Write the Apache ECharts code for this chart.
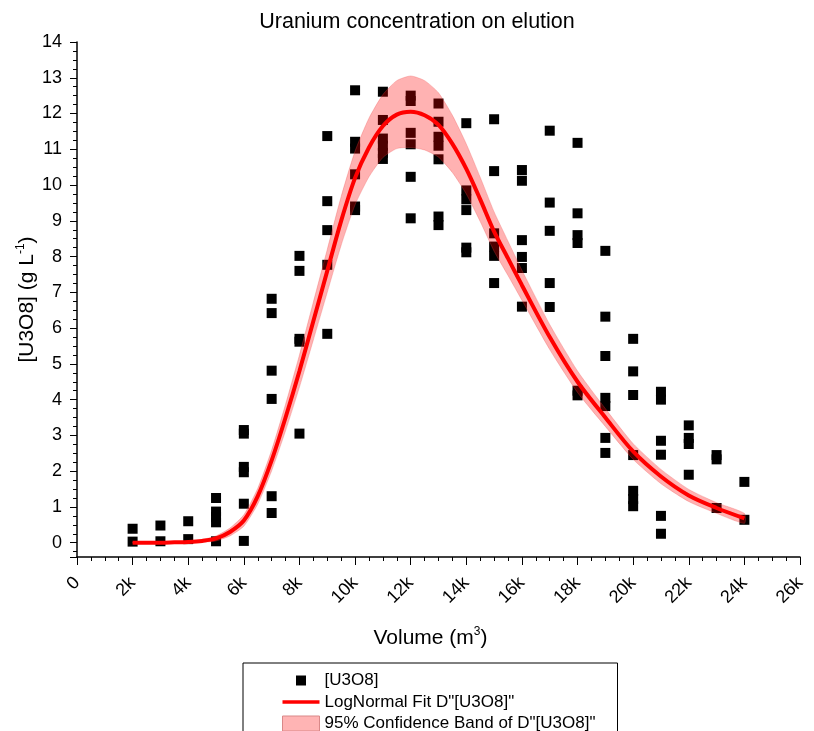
<!DOCTYPE html>
<html>
<head>
<meta charset="utf-8">
<script src="https://cdn.jsdelivr.net/npm/echarts@6/dist/echarts.min.js"></script>
<style>
  html, body { margin: 0; padding: 0; background: #fff; }
  #chart { width: 814px; height: 731px; }
</style>
</head>
<body>
<div id="chart"></div>
<script>
// measured points, grouped by elution volume (m3)
const columnVolumes = [2000, 3000, 4000, 5000, 6000, 7000, 8000, 9000, 10000, 11000, 12000,
  13000, 14000, 15000, 16000, 17000, 18000, 19000, 20000, 21000, 22000, 23000, 24000];
const columnValues = [
  [0.39, 0.03],
  [0.48, 0.04],
  [0.6, 0.1],
  [1.25, 0.87, 0.72, 0.57, 0.04],
  [3.15, 3.05, 2.12, 1.97, 1.09, 0.05],
  [6.82, 6.42, 4.81, 4.02, 1.3, 0.83],
  [8.02, 7.6, 5.7, 5.62, 3.05],
  [11.37, 9.55, 8.74, 7.77, 5.84],
  [12.65, 11.21, 11.02, 10.3, 9.4, 9.3],
  [12.61, 11.82, 11.3, 11.1, 10.9, 10.73],
  [12.5, 12.35, 11.46, 11.14, 10.23, 9.07],
  [12.28, 11.77, 11.35, 11.1, 10.72, 9.12, 8.88],
  [11.73, 9.85, 9.6, 9.3, 8.25, 8.12],
  [11.84, 10.39, 8.65, 8.28, 8.02, 7.26],
  [10.42, 10.12, 8.46, 7.99, 7.68, 6.6],
  [11.52, 9.51, 8.72, 7.26, 6.59],
  [11.18, 9.21, 8.6, 8.38, 4.25, 4.12],
  [8.16, 6.32, 5.22, 4.05, 3.82, 2.93, 2.51],
  [5.7, 4.79, 4.13, 2.45, 1.45, 1.22, 1.02],
  [4.22, 4.0, 2.85, 2.46, 0.75, 0.25],
  [3.28, 2.93, 2.76, 1.9],
  [2.45, 2.33, 0.97],
  [1.7, 0.64]
];

// lognormal fit and its 95% confidence band
const fitVolumes = [2000, 2500, 3000, 3500, 4000, 4500, 5000, 5500, 6000, 6500,
  7000, 7500, 8000, 8500, 9000, 9500, 10000, 10500, 11000, 11500,
  12000, 12500, 13000, 13500, 14000, 14500, 15000, 15500, 16000,
  17000, 18000, 19000, 20000, 21000, 22000, 23000, 24000];
const fitValues = [0, 0, 0, 0.01, 0.02, 0.05, 0.12, 0.3, 0.62, 1.3,
  2.3, 3.5, 4.8, 6.2, 7.6, 9.0, 10.2, 11.05, 11.65, 11.97,
  12.05, 11.95, 11.68, 11.15, 10.45, 9.6, 8.7, 7.95, 7.2,
  5.75, 4.5, 3.5, 2.55, 1.85, 1.32, 0.97, 0.68];
const bandLower = [-0.01, -0.01, -0.01, -0.005, 0, 0.01, 0.05, 0.19, 0.46, 1.08,
  2.01, 3.13, 4.35, 5.67, 7.0, 8.32, 9.45, 10.23, 10.77, 11.02,
  11.05, 10.98, 10.78, 10.35, 9.75, 8.98, 8.15, 7.47, 6.78,
  5.4, 4.2, 3.25, 2.33, 1.65, 1.15, 0.82, 0.54];
const bandUpper = [0.01, 0.01, 0.01, 0.025, 0.04, 0.09, 0.19, 0.41, 0.78, 1.52,
  2.59, 3.87, 5.25, 6.73, 8.2, 9.68, 10.95, 11.87, 12.53, 12.92,
  13.05, 12.92, 12.58, 11.95, 11.15, 10.22, 9.25, 8.43, 7.62,
  6.1, 4.8, 3.75, 2.77, 2.05, 1.49, 1.12, 0.82];

const xMax = 26000;
const xStep = 2000;
const yMin = -0.4;
const yMax = 14;

const font = "'Liberation Sans', Arial, sans-serif";
const bandFill = 'rgba(255, 0, 0, 0.3)';

const scatterData = [];
columnVolumes.forEach((v, i) => {
  columnValues[i].forEach(y => scatterData.push([v, y]));
});
const fitData = fitVolumes.map((v, i) => [v, fitValues[i]]);

function renderBand(params, api) {
  const pts = [];
  fitVolumes.forEach((v, i) => pts.push(api.coord([v, bandUpper[i]])));
  for (let i = fitVolumes.length - 1; i >= 0; i--) {
    pts.push(api.coord([fitVolumes[i], bandLower[i]]));
  }
  return {
    type: 'polygon',
    shape: { points: pts, smooth: 0.2 },
    style: { fill: bandFill, stroke: 'rgba(235, 70, 70, 0.35)', lineWidth: 0.8 }
  };
}

const chart = echarts.init(document.getElementById('chart'));
chart.setOption({
  animation: false,
  backgroundColor: '#fff',
  title: {
    text: 'Uranium concentration on elution',
    left: 412,
    textAlign: 'center',
    top: 6,
    textStyle: { fontFamily: font, fontSize: 21.5, fontWeight: 'normal', color: '#000' }
  },
  grid: { left: 77, right: 14, top: 42, bottom: 174 },
  xAxis: {
    type: 'value',
    min: 0,
    max: xMax,
    interval: xStep,
    axisLine: { onZero: false, lineStyle: { color: '#000', width: 1.5 } },
    axisTick: { length: 8, lineStyle: { color: '#000', width: 1 } },
    minorTick: { show: true, splitNumber: 4, length: 4, lineStyle: { color: '#000', width: 1 } },
    splitLine: { show: false },
    axisLabel: {
      rotate: 45,
      margin: 23,
      color: '#000',
      fontFamily: font,
      fontSize: 18,
      formatter: v => v === 0 ? '0' : (v / 1000) + 'k'
    },
    name: '{a|Volume (m}{s|3}{a|)}',
    nameLocation: 'middle',
    nameGap: 69,
    nameMoveOverlap: false,
    nameTextStyle: {
      padding: [0, 16, 0, 0],
      rich: {
        a: { fontFamily: font, fontSize: 21, color: '#000', lineHeight: 24 },
        s: { fontFamily: font, fontSize: 12, color: '#000', verticalAlign: 'top', lineHeight: 24 }
      }
    }
  },
  yAxis: {
    type: 'value',
    min: yMin,
    max: yMax,
    splitNumber: 14,
    axisLine: { show: true, lineStyle: { color: '#000', width: 1.5 } },
    axisTick: { show: true, length: 7, lineStyle: { color: '#000', width: 1 } },
    minorTick: { show: true, splitNumber: 4, length: 4, lineStyle: { color: '#000', width: 1 } },
    splitLine: { show: false },
    axisLabel: {
      margin: 15,
      color: '#000',
      fontFamily: font,
      fontSize: 18,
      formatter: v => v < 0 ? '' : String(v)
    },
    name: '{a|[U3O8] (g L}{s|-1}{a|)}',
    nameLocation: 'middle',
    nameGap: 38,
    nameMoveOverlap: false,
    nameTextStyle: {
      rich: {
        a: { fontFamily: font, fontSize: 21, color: '#000', lineHeight: 24 },
        s: { fontFamily: font, fontSize: 12, color: '#000', verticalAlign: 'top', lineHeight: 24 }
      }
    }
  },
  legend: {
    orient: 'vertical',
    left: 243,
    top: 663,
    height: 90,
    align: 'left',
    padding: [9, 22, 14, 39],
    itemGap: 4.5,
    itemWidth: 37,
    itemHeight: 15,
    borderColor: '#000',
    borderWidth: 1,
    selectedMode: false,
    textStyle: { fontFamily: font, fontSize: 17, color: '#000', lineHeight: 15 },
    data: [
      { name: '[U3O8]', icon: 'path://M0,0M37,15M13.5,2.5h10v10h-10z', itemStyle: { color: '#000' } },
      { name: 'LogNormal Fit D"[U3O8]"', icon: 'path://M0,0M37,15M0,5.75h37v3.5h-37z', itemStyle: { color: '#ff0000' } },
      {
        name: '95% Confidence Band of D"[U3O8]"',
        icon: 'rect',
        itemStyle: { color: '#ffb4b4', borderColor: '#d98888', borderWidth: 1 }
      }
    ]
  },
  series: [
    {
      name: '[U3O8]',
      type: 'scatter',
      symbol: 'rect',
      symbolSize: 10,
      itemStyle: { color: '#000', opacity: 1 },
      data: scatterData,
      z: 2
    },
    {
      name: '95% Confidence Band of D"[U3O8]"',
      type: 'custom',
      silent: true,
      renderItem: renderBand,
      itemStyle: { color: bandFill },
      data: [[fitVolumes[0], fitValues[0]]],
      z: 3
    },
    {
      name: 'LogNormal Fit D"[U3O8]"',
      type: 'line',
      smooth: 0.3,
      symbol: 'none',
      lineStyle: { color: '#ff0000', width: 4 },
      itemStyle: { color: '#ff0000' },
      data: fitData,
      z: 4
    }
  ]
});
</script>
</body>
</html>
